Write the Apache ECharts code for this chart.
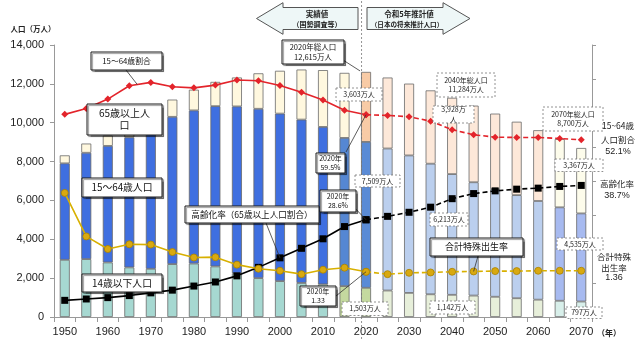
<!DOCTYPE html>
<html>
<head>
<meta charset="utf-8">
<script src="https://cdn.jsdelivr.net/npm/echarts@6.0.0/dist/echarts.min.js"></script>
<style>
  html, body { margin: 0; padding: 0; background: #fff; }
  #chart { width: 640px; height: 345px; }
</style>
</head>
<body>
<div id="chart"></div>
<script>
// 年次（5年ごと）
const years = ['1950','1955','1960','1965','1970','1975','1980','1985','1990','1995',
               '2000','2005','2010','2015','2020','2025','2030','2035','2040','2045',
               '2050','2055','2060','2065','2070'];

// 年齢3区分別人口（万人）
const pop0to14  = [2943,2980,2807,2553,2482,2722,2751,2603,2249,2001,
                   1847,1752,1680,1589,1503,1363,1240,1169,1142,1103,
                   1041,966,893,836,797];
const pop15to64 = [4966,5473,6000,6693,7157,7581,7883,8251,8590,8716,
                   8622,8409,8103,7629,7509,7310,7076,6722,6213,5832,
                   5540,5307,5078,4809,4535];
const pop65plus = [411,475,535,618,733,887,1065,1247,1489,1826,
                   2204,2576,2925,3347,3603,3653,3696,3773,3928,3945,
                   3888,3778,3644,3513,3367];

// 15～64歳割合（%）
const ratio15to64 = [59.6,61.3,64.1,68.0,69.0,67.7,67.4,68.2,69.7,69.5,
                     68.1,66.1,63.8,60.8,59.5,59.3,58.9,57.6,55.1,53.6,
                     52.9,52.8,52.8,52.5,52.1];
// 高齢化率（%）
const agingRate = [4.9,5.3,5.7,6.3,7.1,7.9,9.1,10.3,12.1,14.6,
                   17.4,20.2,23.0,26.6,28.6,29.6,30.8,32.3,34.8,36.3,
                   37.1,37.6,37.9,38.4,38.7];
// 合計特殊出生率
const fertility = [3.65,2.37,2.00,2.14,2.13,1.91,1.75,1.76,1.54,1.42,
                   1.36,1.26,1.39,1.45,1.33,1.26,1.30,1.31,1.33,1.34,
                   1.35,1.35,1.36,1.36,1.36];

// 軸目盛
const popTicks = [0,2000,4000,6000,8000,10000,12000,14000];

const baseYear = '2020';          // 実績と推計の境目
const baseIdx = years.indexOf(baseYear);

// 区分ごとの配色 [0-14, 15-64, 65+]
const palettes = {
  actual: ['#A6D8D1', '#3F6FE0', '#FFF8DF'],
  y2015:  ['#C4D99F', '#5587D3', '#FFF8DF'],
  y2020:  ['#C4D99F', '#5A8BD6', '#F8CBA6'],
  proj:   ['#E7EFDA', '#BBCFEE', '#FDE8D9'],
  late:   ['#D8EFEA', '#A7BAF0', '#FDFCEB']
};
function paletteFor(y) {
  const n = +y;
  if (n <= 2010) return palettes.actual;
  if (n === 2015) return palettes.y2015;
  if (n === 2020) return palettes.y2020;
  if (n <= 2060) return palettes.proj;
  return palettes.late;
}

const JP = '"Noto Sans CJK JP", "Noto Sans", sans-serif';
const NUM = '"Liberation Sans", "Noto Sans", sans-serif';

function barData(values, k) {
  return values.map((v, i) => ({
    value: v,
    itemStyle: { color: paletteFor(years[i])[k] }
  }));
}
const actualPart = arr => arr.map((v, i) => (i <= baseIdx ? v : null));
const projPart = arr => arr.map((v, i) => (i >= baseIdx ? v : null));

function barSeries(name, values, k) {
  return {
    name, type: 'bar', stack: 'pop', barWidth: 10,
    yAxisIndex: 0,
    data: barData(values, k),
    itemStyle: { borderColor: '#6a6a6a', borderWidth: 0.8 },
    emphasis: { disabled: true },
    z: 2
  };
}
function lineSeries(name, values, axis, color, symbol, size, dashed, sym) {
  return {
    name, type: 'line', yAxisIndex: axis,
    data: dashed ? projPart(values) : actualPart(values),
    symbol, symbolSize: size,
    lineStyle: { color, width: 1.6, type: dashed ? [5, 3] : 'solid' },
    itemStyle: { color: sym.fill, borderColor: sym.stroke, borderWidth: sym.w },
    emphasis: { disabled: true },
    connectNulls: false,
    z: 5
  };
}

const red = { fill: '#E3242B', stroke: '#E3242B', w: 0 };
const blk = { fill: '#000', stroke: '#000', w: 0 };
const yel = { fill: '#D9A90F', stroke: '#A98200', w: 0.8 };

const chart = echarts.init(document.getElementById('chart'), null, { renderer: 'canvas' });

chart.setOption({
  animation: false,
  backgroundColor: '#fff',
  grid: { left: 54, right: 48, top: 45, bottom: 28 },
  xAxis: {
    type: 'category', data: years, boundaryGap: true,
    axisLine: { lineStyle: { color: '#999' } },
    axisTick: { show: true, interval: 0, length: 5, lineStyle: { color: '#999' } },
    axisLabel: { interval: 1, color: '#222', fontSize: 11, fontFamily: NUM, margin: 9 }
  },
  yAxis: [
    {
      type: 'value', min: popTicks[0], max: popTicks[popTicks.length - 1], interval: 2000,
      axisLine: { show: true, lineStyle: { color: '#999' } },
      axisTick: { show: true, length: 4, lineStyle: { color: '#999' } },
      splitLine: { show: false },
      axisLabel: {
        color: '#222', fontSize: 11, fontFamily: NUM, margin: 10,
        formatter: v => v.toLocaleString('en-US')
      }
    },
    {
      type: 'value', position: 'right', min: 0, max: 80, interval: 10,
      axisLine: { show: true, lineStyle: { color: '#999' } },
      axisTick: { show: true, length: 4, lineStyle: { color: '#999' } },
      splitLine: { show: false },
      axisLabel: { show: false }
    },
    {
      type: 'value', min: 0, max: 8, show: false,
      splitLine: { show: false }
    }
  ],
  series: [
    barSeries('14歳以下人口', pop0to14, 0),
    barSeries('15～64歳人口', pop15to64, 1),
    barSeries('65歳以上人口', pop65plus, 2),
    lineSeries('15～64歳割合', ratio15to64, 1, '#E3242B', 'diamond', 7, false, red),
    lineSeries('15～64歳割合（推計）', ratio15to64, 1, '#E3242B', 'diamond', 7, true, red),
    lineSeries('高齢化率', agingRate, 1, '#000', 'rect', 7, false, blk),
    lineSeries('高齢化率（推計）', agingRate, 1, '#000', 'rect', 7, true, blk),
    lineSeries('合計特殊出生率', fertility, 2, '#D8B000', 'circle', 7, false, yel),
    lineSeries('合計特殊出生率（推計）', fertility, 2, '#D8B000', 'circle', 7, true, yel)
  ]
});

// ---- 注記（吹き出し・矢印・右側の値） ----
const px = (axis, yr, v) => chart.convertToPixel({ xAxisIndex: 0, yAxisIndex: axis }, [yr, v]);
const at = y => years.indexOf(y);

function solidBox(x, y, w, h, text, fs) {
  return [
    { type: 'rect', z: 110, shape: { x, y, width: w, height: h },
      style: { fill: '#fff', stroke: '#1a1a1a', lineWidth: 1,
               shadowColor: 'rgba(0,0,0,0.4)', shadowOffsetX: 1.5, shadowOffsetY: 1.5, shadowBlur: 1 } },
    { type: 'text', z: 111, x: x + w / 2, y: y + h / 2,
      style: { text, fontSize: fs, fontFamily: JP, fill: '#111', align: 'center',
               verticalAlign: 'middle', lineHeight: fs + 2 } }
  ];
}
function dashBox(x, y, w, h, text, fs) {
  return [
    { type: 'rect', z: 110, shape: { x, y, width: w, height: h },
      style: { fill: '#fff', stroke: '#777', lineWidth: 0.8, lineDash: [2, 2] } },
    { type: 'text', z: 111, x: x + w / 2, y: y + h / 2,
      style: { text, fontSize: fs || 7, fontFamily: JP, fill: '#222', align: 'center',
               verticalAlign: 'middle', lineHeight: (fs || 7) + 2.5 } }
  ];
}
function pointer(x1, y1, p) {
  return { type: 'line', z: 105, shape: { x1, y1, x2: p[0], y2: p[1] },
           style: { stroke: '#333', lineWidth: 0.8 } };
}
function label(x, y, text, fs, opts) {
  return { type: 'text', z: 111, x, y,
           style: Object.assign({ text, fontSize: fs, fontFamily: JP, fill: '#222',
                                  align: 'center', verticalAlign: 'middle', lineHeight: fs + 2.5 }, opts || {}) };
}

const p2020 = px(0, baseYear, 0);
const boundaryX = p2020[0] - 4.5;

// 比率線上の参照点
const r1965 = px(1, '1965', ratio15to64[at('1965')]);
const r1970 = px(1, '1970', ratio15to64[at('1970')]);
const rPoint = [r1965[0] + 0.37 * (r1970[0] - r1965[0]), r1965[1] + 0.37 * (r1970[1] - r1965[1])];
const a2000 = px(1, '2000', agingRate[at('2000')]);
const f2045 = px(2, '2045', fertility[at('2045')]);
const r2020 = px(1, baseYear, ratio15to64[baseIdx]);
const a2020 = px(1, baseYear, agingRate[baseIdx]);
const f2020 = px(2, baseYear, fertility[baseIdx]);
const top2020 = px(0, baseYear, pop0to14[baseIdx] + pop15to64[baseIdx] + pop65plus[baseIdx]);

const elements = [
  // 実績／推計の境界線
  { type: 'line', z: 100, shape: { x1: boundaryX, y1: 1, x2: boundaryX, y2: 341 },
    style: { stroke: '#777', lineWidth: 0.8, lineDash: [2, 2] } },
  // 矢印
  { type: 'polygon', z: 100,
    shape: { points: [[256.5, 18.5], [283, 2.7], [283, 7.5], [358, 7.5], [358, 29.5], [283, 29.5], [283, 34.3]] },
    style: { fill: '#EEF7F7', stroke: '#555', lineWidth: 1 } },
  { type: 'polygon', z: 100,
    shape: { points: [[367, 7.5], [443, 7.5], [443, 2.7], [470, 18.5], [443, 34.3], [443, 29.5], [367, 29.5]] },
    style: { fill: '#EEF7F7', stroke: '#555', lineWidth: 1 } },
  label(317, 14, '実績値', 7.5, { fontWeight: 'bold' }),
  label(317, 24, '（国勢調査等）', 7, { fontWeight: 'bold' }),
  label(409, 14, '令和5年推計値', 7.5, { fontWeight: 'bold' }),
  label(407, 24, '（日本の将来推計人口）', 6.6, { fontWeight: 'bold' }),

  // 軸タイトル
  label(33, 29, '人口（万人）', 7.5, { fontWeight: 'bold' }),
  label(609, 333, '（年）', 8, { fontWeight: 'bold' }),

  // 指示線
  pointer(126, 70, rPoint),
  pointer(266, 223, a2000),
  pointer(478, 256, f2045),
  pointer(343, 60, [top2020[0] - 6, top2020[1] - 1]),
  pointer(346, 152, r2020),
  pointer(350, 203, a2020),
  pointer(336, 296, f2020),

  // 系列名の吹き出し
  ...solidBox(91, 52, 71, 18, '15～64歳割合', 7.8),
  ...solidBox(87, 104, 75, 31, '65歳以上人\n口', 10),
  ...solidBox(82, 178, 80, 19, '15～64歳人口', 9.8),
  ...solidBox(185, 206, 134, 17, '高齢化率（65歳以上人口割合）', 8.6),
  ...solidBox(82, 274, 80, 18, '14歳以下人口', 9.8),
  ...solidBox(430, 238, 93, 18, '合計特殊出生率', 9),

  // 2020年の値
  ...solidBox(282, 40, 62, 24, '2020年総人口\n12,615万人', 7.5),
  ...solidBox(316, 153, 29, 20, '2020年\n59.5%', 7),
  ...solidBox(320, 190, 36, 22, '2020年\n28.6%', 7),
  ...solidBox(300, 286, 36, 20, '2020年\n1.33', 7),

  // 人口の値
  ...dashBox(336, 88, 46, 13, '3,603万人'),
  ...dashBox(355, 175, 45, 12, '7,509万人'),
  ...dashBox(342, 302, 46, 13.5, '1,503万人'),
  ...dashBox(437, 73, 58, 24, '2040年総人口\n11,284万人'),
  ...dashBox(433, 106, 41, 17, '3,928万\n人'),
  ...dashBox(430, 213, 38, 13, '6,213万人'),
  ...dashBox(430, 301, 45, 13, '1,142万人'),
  ...dashBox(543, 107, 60, 24, '2070年総人口\n8,700万人'),
  ...dashBox(555, 159, 48, 12.5, '3,367万人'),
  ...dashBox(557, 238, 46, 12, '4,535万人'),
  ...dashBox(566, 307, 36, 11.5, '797万人'),

  // 右側の2070年値
  label(618, 126, '15~64歳', 8.5),
  label(618, 139.5, '人口割合', 8.5),
  label(618, 152, '52.1%', 9, { fontFamily: NUM }),
  label(617, 183.5, '高齢化率', 8.5),
  label(617, 196, '38.7%', 9, { fontFamily: NUM }),
  label(614, 256.5, '合計特殊', 8.5),
  label(614, 267.5, '出生率', 8.5),
  label(614, 278, '1.36', 9, { fontFamily: NUM })
];

chart.setOption({ graphic: { elements } });
</script>
</body>
</html>
